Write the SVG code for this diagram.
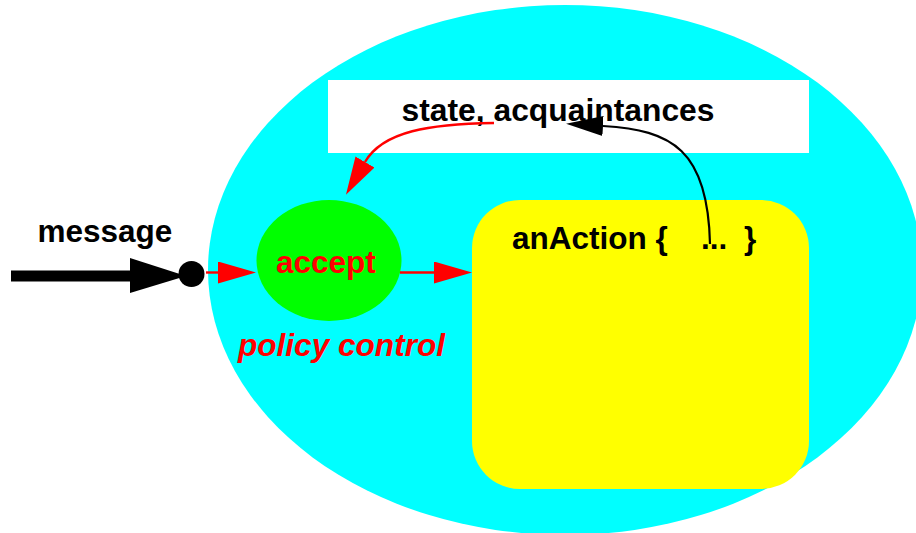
<svg xmlns="http://www.w3.org/2000/svg" width="916" height="533" viewBox="0 0 916 533">
<style>
.t{font-family:"Liberation Sans",Arial,Helvetica,sans-serif;font-weight:bold;font-size:31.5px}
.blk{fill:#000}
.red{fill:#ff0000}
.rl{stroke:#ff0000;stroke-width:2.4;fill:none}
.bl{stroke:#000;stroke-width:2.2;fill:none}
</style>
<defs>
<marker id="ra" viewBox="0 -11 38 22" refX="0" refY="0" markerWidth="38" markerHeight="22" markerUnits="userSpaceOnUse" orient="auto">
<path d="M0,-11 L38,0 L0,11 z" fill="#ff0000"/>
</marker>
<marker id="ba" viewBox="0 -10 37 20" refX="0" refY="0" markerWidth="37" markerHeight="20" markerUnits="userSpaceOnUse" orient="auto">
<path d="M0,-10 L37,0 L0,10 z" fill="#000"/>
</marker>
</defs>
<rect width="916" height="533" fill="#fff"/>
<g id="actor">
<ellipse cx="565" cy="270" rx="357" ry="265" fill="#00ffff"/>
</g>
<g id="state">
<rect x="328" y="80" width="481" height="73" fill="#fff"/>
<text class="t blk" x="401.5" y="121" textLength="313" lengthAdjust="spacingAndGlyphs">state, acquaintances</text>
</g>
<g id="action">
<rect x="472" y="200" width="337" height="289" rx="48" ry="48" fill="#ffff00"/>
<text class="t blk" y="249"><tspan x="512">anAction {</tspan><tspan x="701">...</tspan><tspan x="744">}</tspan></text>
</g>
<g id="accept">
<ellipse cx="329" cy="260.5" rx="72.5" ry="60.5" fill="#00ff00"/>
<text class="t red" x="276" y="273">accept</text>
</g>
<g id="labels">
<text class="t blk" x="37.5" y="242">message</text>
<text class="t red" x="238" y="356" font-style="italic" textLength="207" lengthAdjust="spacingAndGlyphs">policy control</text>
</g>
<g id="connectors">
<line x1="11" y1="276" x2="131" y2="276" stroke="#000" stroke-width="11"/>
<polygon points="130,258 130,293 186,276" fill="#000"/>
<circle cx="191.5" cy="274" r="13" fill="#000"/>
<path class="rl" d="M206,272.5 L218,272.5" marker-end="url(#ra)"/>
<path class="rl" d="M400,272.5 L434,272.5" marker-end="url(#ra)"/>
<path class="rl" d="M494,123 C430,124 383,131 365,162" marker-end="url(#ra)"/>
<path class="bl" d="M710,244 C708,150 672,130 603,126" marker-end="url(#ba)"/>
</g>
</svg>
